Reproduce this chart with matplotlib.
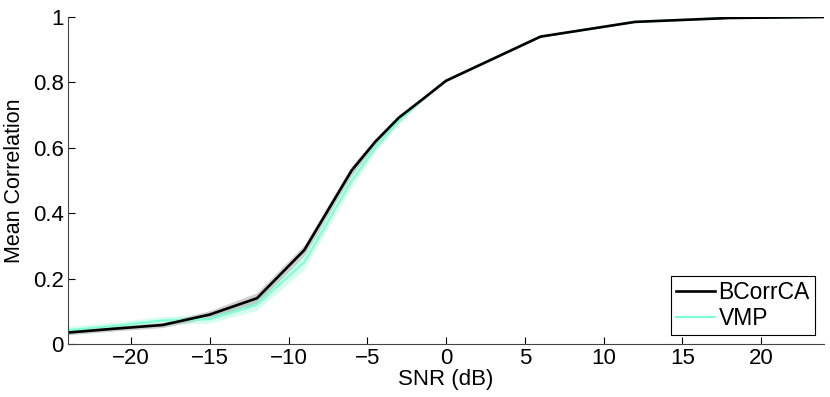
import matplotlib
matplotlib.use("Agg")
import matplotlib.pyplot as plt
import numpy as np

plt.rcParams['font.family'] = ['Liberation Sans', 'DejaVu Sans']

snr = [-24, -21, -18, -15, -12, -9, -6, -4.5, -3, -1.5, 0, 6, 12, 18, 24]
bcorrca = [0.035, 0.047, 0.058, 0.090, 0.140, 0.287, 0.530, 0.618, 0.692, 0.748, 0.805, 0.940, 0.985, 0.997, 1.0]
bcorrca_lo = [0.028, 0.040, 0.050, 0.080, 0.125, 0.270, 0.515, 0.608, 0.686, 0.744, 0.802, 0.938, 0.984, 0.996, 0.999]
bcorrca_hi = [0.042, 0.054, 0.066, 0.102, 0.157, 0.303, 0.545, 0.628, 0.698, 0.752, 0.808, 0.942, 0.986, 0.998, 1.0]
vmp = [0.042, 0.055, 0.072, 0.076, 0.120, 0.250, 0.498, 0.598, 0.680, 0.748, 0.805, 0.940, 0.985, 0.997, 1.0]
vmp_lo = [0.030, 0.043, 0.060, 0.064, 0.103, 0.228, 0.478, 0.585, 0.672, 0.744, 0.802, 0.938, 0.984, 0.996, 0.999]
vmp_hi = [0.054, 0.067, 0.084, 0.090, 0.137, 0.272, 0.518, 0.611, 0.688, 0.752, 0.808, 0.942, 0.986, 0.998, 1.0]

xticks = [-20, -15, -10, -5, 0, 5, 10, 15, 20]
yticks = [0, 0.2, 0.4, 0.6, 0.8, 1]
ytick_labels = ["0", "0.2", "0.4", "0.6", "0.8", "1"]

cyan = '#7fffd4'

fig = plt.figure(figsize=(8.30, 3.97), dpi=100)
ax = fig.add_axes([68/830, 53/397, (824-68)/830, (344-17)/397])

ax.fill_between(snr, vmp_lo, vmp_hi, color=cyan, alpha=0.35, linewidth=0)
ax.fill_between(snr, bcorrca_lo, bcorrca_hi, color='#a0a0a0', alpha=0.5, linewidth=0)
ax.plot(snr, vmp, color=cyan, lw=1.6, label='VMP')
ax.plot(snr, bcorrca, color='black', lw=1.9, label='BCorrCA')

ax.set_xlim(-24, 24)
ax.set_ylim(0, 1)
ax.set_xticks(xticks)
ax.set_xticklabels(['\u2212' + str(-t) if t < 0 else str(t) for t in xticks])
ax.set_yticks(yticks)
ax.set_yticklabels(ytick_labels)
ax.tick_params(direction='in', length=5, width=0.8, labelsize=16, colors='black', pad=3)
for s in ['top', 'right']:
    ax.spines[s].set_visible(False)
for s in ['left', 'bottom']:
    ax.spines[s].set_color('#444444')
    ax.spines[s].set_linewidth(0.8)

ax.set_xlabel('SNR (dB)', fontsize=16, labelpad=0)
ax.set_ylabel('Mean Correlation', fontsize=15.5, labelpad=6)

handles, labels = ax.get_legend_handles_labels()
leg = ax.legend(handles[::-1], labels[::-1], loc='lower right', fontsize=16.5,
                fancybox=False, edgecolor='black', framealpha=1,
                handlelength=1.7, handletextpad=0.15, borderpad=0.22,
                labelspacing=0.12, borderaxespad=0.4)
leg.get_frame().set_linewidth(0.8)

fig.savefig('out.png', dpi=100)
